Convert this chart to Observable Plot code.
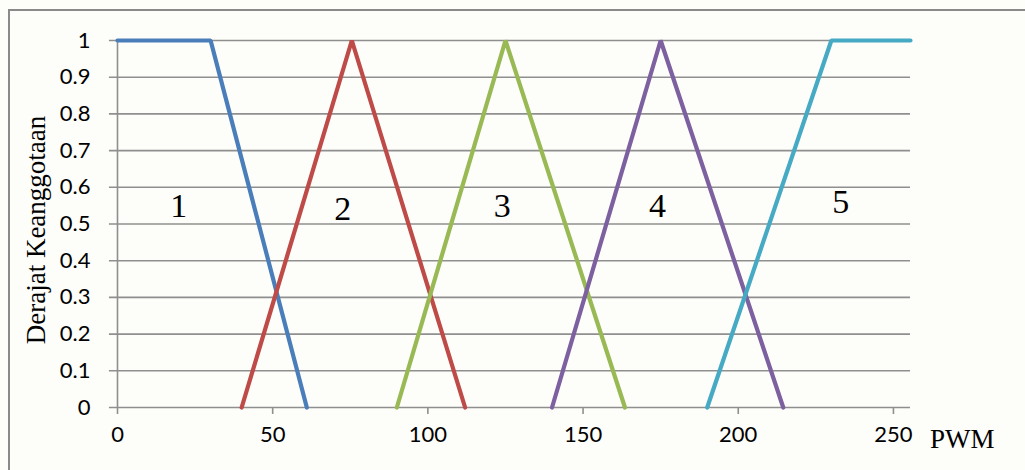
<!DOCTYPE html>
<html><head><meta charset="utf-8">
<script src="https://cdn.jsdelivr.net/npm/d3@7"></script>
<script src="https://cdn.jsdelivr.net/npm/@observablehq/plot@0.6"></script>
<style>
html,body{margin:0;padding:0;background:#fdfdf9;}
#wrap{position:relative;width:1025px;height:470px;overflow:hidden;}
#frame{position:absolute;left:8px;top:9px;width:1100px;height:600px;border-left:2px solid #8a8a8a;border-top:2px solid #8a8a8a;}
</style></head>
<body><div id="wrap"><div id="frame"></div><div id="chart" style="position:absolute;left:0;top:0"></div></div>
<script>
const setNames = ["1","2","3","4","5"];
const setColors = ["#4A7EBB","#BE4B48","#98B954","#7D60A0","#46AAC5"];
const setX = [[0,30,61],[40,75.5,112],[90,125,163.5],[140,175,214.5],[190,230,255.5]];
const setY = [[1,1,0],[0,1,0],[0,1,0],[0,1,0],[0,1,1]];
const labelX = [19.7,72.6,124,174,233];
const labelY = [0.55,0.54,0.55,0.55,0.56];
const xTicks = [0,50,100,150,200,250];
const yTicks = [0,0.1,0.2,0.3,0.4,0.5,0.6,0.7,0.8,0.9,1];

const pts = [];
setNames.forEach((n,i)=>setX[i].forEach((x,j)=>pts.push({set:n,x,y:setY[i][j]})));
const labels = setNames.map((n,i)=>({set:n,x:labelX[i],y:labelY[i]}));
const tickFont = "Lato, 'Open Sans', sans-serif";

const chart = Plot.plot({
  width:1025, height:470,
  marginLeft:117, marginRight:115, marginTop:40, marginBottom:63,
  style:{background:"transparent", fontFamily:tickFont},
  x:{domain:[0,255.5], axis:null},
  y:{domain:[0,1], axis:null},
  color:{domain:setNames, range:setColors},
  marks:[
    Plot.ruleY(yTicks,{x1:-2.6,x2:255.5,stroke:"#8f8f8f",strokeWidth:1.6}),
    Plot.ruleX([0],{y1:0,y2:1,stroke:"#8f8f8f",strokeWidth:1.6}),
    Plot.axisX({ticks:xTicks,tickSize:7,tickFormat:()=>"",stroke:"#8f8f8f",strokeWidth:1.6,label:null}),
    Plot.text(yTicks,{y:d=>d,text:d=>String(d),frameAnchor:"left",dx:-27,textAnchor:"end",fontSize:22,fontFamily:tickFont,fill:"#000"}),
    Plot.text(xTicks,{x:d=>d,text:d=>String(d),frameAnchor:"bottom",dy:34,fontSize:22,fontFamily:tickFont,fill:"#000"}),
    Plot.line(pts,{x:"x",y:"y",z:"set",stroke:"set",strokeWidth:4.2,strokeLinejoin:"miter"}),
    Plot.text(labels,{x:"x",y:"y",text:"set",fontSize:34,fontFamily:"'Liberation Serif', serif",fill:"#000"})
  ]
});
const svg = d3.select(chart);
svg.append("text").attr("transform","translate(45,230) rotate(-90)").attr("text-anchor","middle")
  .attr("font-family","'Liberation Serif', serif").attr("font-size",27).attr("fill","#000").text("Derajat Keanggotaan");
svg.append("text").attr("x",930).attr("y",448).attr("text-anchor","start").attr("font-family","'Liberation Serif', serif")
  .attr("font-size",27).attr("fill","#000").text("PWM");
document.getElementById("chart").appendChild(chart);
</script></body></html>
